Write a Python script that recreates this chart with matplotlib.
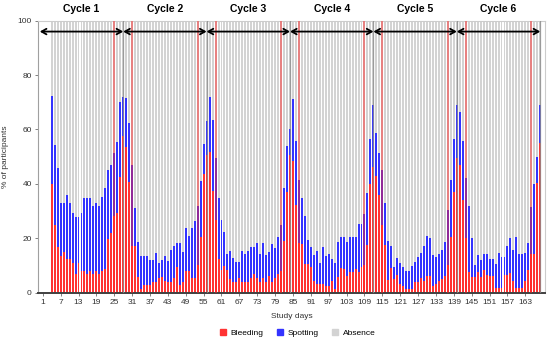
import matplotlib
matplotlib.use("Agg")
import matplotlib.pyplot as plt
from matplotlib.patches import Patch
import numpy as np

plt.rcParams["font.family"] = ["Liberation Sans", "DejaVu Sans"]

# study days 1..168, first recorded day is 4
days = np.arange(1, 169)
first_day = 4

# % with bleeding, and % with bleeding or spotting (days 4..168)
bleeding = [
    39.9, 24.8, 16.6, 13.5, 15.0, 12.3, 12.3, 11.0, 6.8, 11.0, 8.0, 8.0, 6.8, 8.0, 6.8, 8.0, 6.8,
    8.0, 8.5, 19.5, 22.0, 28.0, 29.1, 42.4, 57.6, 53.4, 40.8, 17.0, 17.0, 5.8, 1.2, 2.8, 2.8, 2.8,
    4.0, 4.0, 5.2, 5.8, 4.3, 4.0, 4.0, 5.2, 9.5, 2.8, 4.0, 8.0, 8.0, 5.2, 5.2,
    10.0, 20.5, 43.6, 50.6, 51.8, 37.5, 26.7, 12.2, 8.3, 9.8, 8.3, 4.9, 4.0, 4.0, 5.2, 4.0, 4.0,
    4.0, 5.2, 6.8, 5.5, 4.0, 5.2, 4.0, 5.9, 4.0, 5.5, 6.9,
    8.0, 19.1, 37.1, 50.6, 48.5, 32.2, 18.1, 18.0, 10.5, 10.5, 9.5, 4.3, 3.1, 3.1, 3.3, 2.5, 2.5,
    4.3, 1.2, 5.8, 9.1, 8.8, 6.1, 7.6, 7.6, 8.8, 7.6, 9.5,
    10.0, 17.5, 39.9, 46.3, 42.9, 35.9, 25.0, 17.5, 4.5, 9.1, 4.9, 6.4, 3.3, 2.5, 1.3, 1.3, 1.3,
    4.0, 4.0, 5.2, 4.3, 6.1, 6.1, 2.5, 3.1, 4.3, 4.9, 6.1,
    10.0, 20.5, 37.1, 49.4, 46.9, 34.0, 20.0, 7.6, 5.8, 5.8, 7.6, 5.8, 8.2, 6.4, 6.1, 6.1, 1.8,
    1.8, 1.8, 6.4, 6.4, 7.2, 4.3, 1.8, 1.8, 1.8, 4.3, 8.2,
    14.2, 14.2, 40.2, 54.9,
]
bleed_or_spot = [
    72.3, 54.3, 45.7, 33.0, 33.0, 35.9, 33.0, 29.1, 27.7, 27.7, 29.1, 34.7, 34.7, 34.7, 31.9, 33.0,
    31.9, 35.0, 38.5, 45.0, 47.0, 51.5, 55.5, 70.2, 71.8, 71.4, 62.2, 47.0, 31.0, 18.5, 13.5, 13.5,
    13.5, 12.0, 12.0, 14.6, 10.8, 12.0, 13.4, 11.5, 15.6, 17.1, 18.3, 18.1, 15.0, 23.6, 20.8, 23.6,
    26.2,
    31.8, 41.1, 54.6, 63.1, 71.8, 63.5, 49.4, 34.7, 26.7, 22.4, 14.2, 15.4, 12.6, 11.1, 11.1, 15.4,
    14.2, 15.4, 16.9, 16.9, 18.3, 14.2, 18.3, 13.8, 14.9, 17.7, 16.2, 20.5,
    24.8, 38.3, 53.9, 60.0, 71.1, 55.9, 41.4, 34.7, 28.1, 19.3, 16.6, 13.8, 15.3, 10.7, 16.9, 13.5,
    14.2, 12.2, 10.7, 18.7, 20.3, 20.3, 18.7, 20.5, 20.5, 20.5, 25.2, 25.2,
    28.9, 36.5, 56.4, 69.0, 58.8, 51.4, 45.1, 33.0, 19.1, 17.1, 9.5, 12.6, 11.0, 9.5, 8.0, 8.0, 9.8,
    11.3, 13.0, 14.5, 17.1, 20.8, 20.2, 13.8, 13.0, 14.1, 15.6, 18.7,
    30.4, 41.4, 56.4, 69.0, 66.5, 55.9, 42.0, 31.8, 19.9, 10.1, 13.8, 12.0, 14.1, 14.1, 12.2, 12.2,
    10.5, 14.6, 13.0, 13.0, 17.1, 19.9, 15.6, 20.3, 14.2, 14.2, 14.6, 18.1,
    31.3, 39.9, 50.0, 69.0,
]

cycle_ends = [28, 56, 84, 112, 140, 168]
window_days = [25, 31, 53, 59, 81, 87, 109, 115, 137, 143, 165]
tick_days = list(range(1, 164, 6))

pad = [0.0] * (first_day - 1)
bleed = np.array(pad + bleeding)
total = np.array(pad + bleed_or_spot)
spot = total - bleed
absent = np.where(days >= first_day, 100 - total, 0)

red = "#ff3333"
blue = "#3333ff"
grey = "#d3d3d3"

fig = plt.figure(figsize=(5.5, 3.41), dpi=100)
ax = fig.add_axes([38 / 550, 1 - 292.5 / 341, 507 / 550, 271.8 / 341])

w = 0.66
kw = dict(width=w, linewidth=0, antialiased=False)
ax.bar(days, bleed, color=red, **kw)
ax.bar(days, spot, bottom=bleed, color=blue, **kw)
ax.bar(days, absent, bottom=total, color=grey, **kw)

for d in cycle_ends:
    ax.axvline(d, color="#8c8c8c", lw=0.9, alpha=0.8, zorder=3)
for d in window_days:
    ax.axvline(d, color="#ff2020", lw=1.2, alpha=0.55, zorder=3)

# cycle arrows and labels
start = 0
for i, end in enumerate(cycle_ends):
    ax.annotate("", xy=(start, 96), xytext=(end, 96),
                arrowprops=dict(arrowstyle="<->,head_length=0.35,head_width=0.2",
                                color="black", lw=1.3, shrinkA=0, shrinkB=0),
                zorder=5)
    ax.text((start + end) / 2, 104.3, f"Cycle {i + 1}", ha="center", va="center",
            fontsize=7.5, fontweight="bold", clip_on=False)
    start = end

ax.set_xlim(-0.6, 169.6)
ax.set_ylim(0, 100)
ax.set_xticks(tick_days)
ax.set_xticklabels([str(d) for d in tick_days])
ax.set_yticks([0, 20, 40, 60, 80, 100])
ax.tick_params(labelsize=6, length=2.5, width=0.7, colors="#808080", labelcolor="#333333", pad=2)

for s in ["top", "right"]:
    ax.spines[s].set_color("#cccccc")
    ax.spines[s].set_linewidth(0.8)
ax.spines["left"].set_color("#a0a0a0")
ax.spines["left"].set_linewidth(0.8)
ax.spines["bottom"].set_color("#404040")
ax.spines["bottom"].set_linewidth(1.4)

ax.set_xlabel("Study days", fontsize=6, color="#333333", labelpad=5)
ax.set_ylabel("% of participants", fontsize=6, color="#333333", labelpad=6)

handles = [Patch(color=red), Patch(color=blue), Patch(color=grey)]
fig.legend(handles, ["Bleeding", "Spotting", "Absence"], loc="center",
           bbox_to_anchor=(298 / 550, 1 - 333 / 341), ncol=3, frameon=False,
           fontsize=6, handlelength=0.7, handleheight=0.7, columnspacing=1.6,
           handletextpad=0.6)

fig.savefig("out.png", dpi=100)
